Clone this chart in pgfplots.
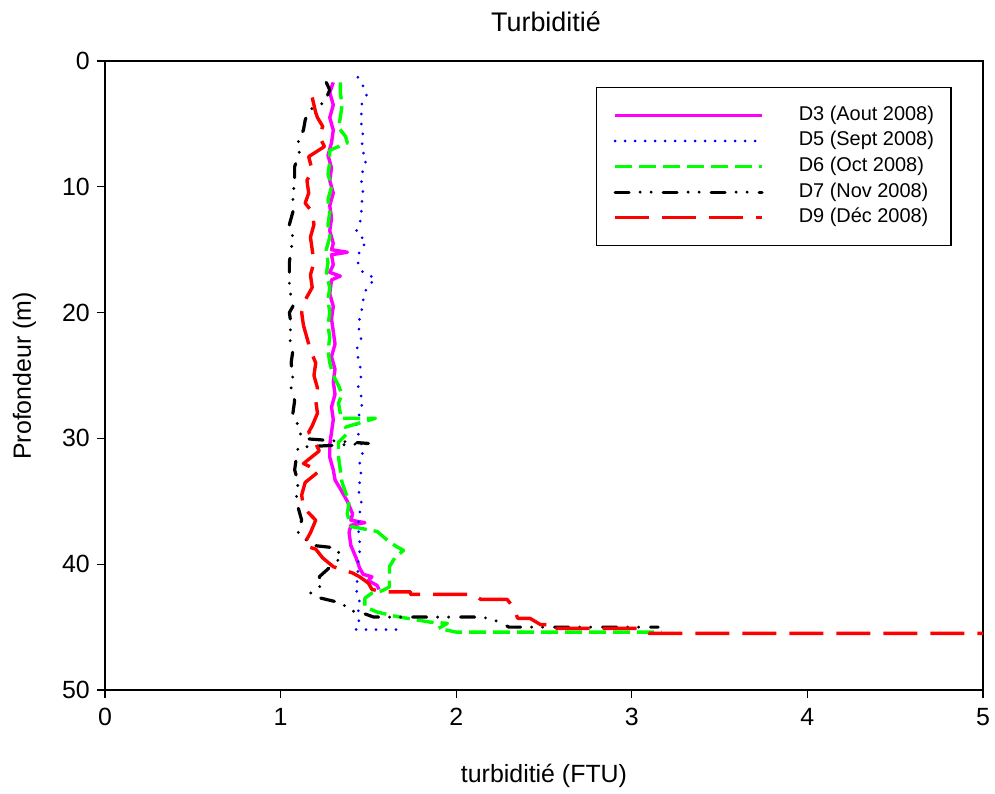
\documentclass[border=0pt]{standalone}
\usepackage{fontspec}
\setmainfont{Liberation Sans}
\usepackage{pgfplots}
\pgfplotsset{compat=1.18}
\definecolor{cmag}{RGB}{255,0,255}
\definecolor{cblue}{RGB}{0,0,255}
\definecolor{cgreen}{RGB}{0,255,0}
\definecolor{cred}{RGB}{255,0,0}
\begin{document}
\begin{tikzpicture}
\path[use as bounding box] (-105bp,-104bp) rectangle (890bp,690bp);
\begin{axis}[
  at={(0,0)}, anchor=south west,
  scale only axis, width=878bp, height=629bp,
  xmin=0, xmax=5, ymin=0, ymax=50,
  y dir=reverse,
  xtick={0,1,2,3,4,5}, ytick={0,10,20,30,40,50},
  tick pos=left, tick align=outside,
  major tick length=8bp,
  axis line style={line width=1.2bp},
  every tick/.style={black, line width=1.2bp},
  /pgf/number format/assume math mode=true,
  tick label style={font=\fontsize{25}{30}\selectfont},
  xticklabel style={inner sep=0pt, yshift=-10bp},
  yticklabel style={inner sep=0pt, xshift=-7bp},
  every axis plot/.append style={line join=round},
  legend cell align=left,
  legend style={at={(0.559,0.959)}, anchor=north west,
    font=\fontsize{20}{24}\selectfont,
    draw=black, line width=1.2bp,
    inner xsep=17bp, inner ysep=18bp,
    row sep=5.6bp,
    nodes={inner sep=0pt, text height=15bp, text depth=5bp},
    /tikz/every odd column/.append style={column sep=35bp}},
  legend image code/.code={\draw[#1] (0bp,0bp) -- (147bp,0bp);},
]
% D3 Aout 2008
\addplot[cmag, line width=3.4bp, mark=none] coordinates {
(1.30,1.7) (1.28,2.5) (1.30,3.5) (1.28,4.5) (1.30,5.5) (1.29,6.5) (1.27,7.5) (1.29,8.5) (1.28,9.5) (1.30,10.5) (1.28,11.5) (1.29,12.5) (1.28,13.5) (1.30,14.5) (1.29,15.0) (1.38,15.2) (1.29,15.4) (1.30,16.2) (1.28,16.8) (1.34,17.1) (1.29,17.4) (1.28,18.5) (1.30,19.5) (1.29,20.5) (1.30,21.5) (1.31,22.5) (1.29,23.5) (1.31,24.5) (1.30,25.5) (1.31,26.5) (1.29,27.5) (1.30,28.5) (1.29,29.5) (1.28,30.5) (1.28,31.5) (1.30,32.5) (1.31,33.3) (1.34,34) (1.38,35) (1.41,36) (1.40,36.5) (1.48,36.7) (1.40,36.9) (1.39,37.5) (1.40,38.5) (1.43,39.5) (1.45,40.3) (1.47,40.8) (1.52,41.0) (1.50,41.3) (1.55,41.7) (1.56,42.0)
};
\addlegendentry{D3 (Aout 2008)}
% D5 Sept 2008
\addplot[cblue, line width=3bp, line cap=round, dash pattern=on 0bp off 10bp, mark=none] coordinates {
(1.44,1.3) (1.47,2.0) (1.49,2.7) (1.46,3.5) (1.46,5) (1.47,6.0) (1.46,7.0) (1.49,7.8) (1.47,8.5) (1.46,9.5) (1.47,10.5) (1.46,11.5) (1.46,12.5) (1.43,13.6) (1.46,14.0) (1.49,14.4) (1.45,15) (1.44,16) (1.46,16.7) (1.54,17.3) (1.49,18.0) (1.47,19) (1.46,20) (1.44,21) (1.46,22) (1.43,23) (1.45,24) (1.46,25) (1.44,26) (1.47,27) (1.45,28) (1.43,29) (1.45,30) (1.47,31) (1.45,32) (1.46,33) (1.44,34) (1.46,35) (1.45,36) (1.44,37) (1.45,38) (1.45,39) (1.44,40) (1.44,41) (1.43,42) (1.45,43) (1.44,44) (1.45,44.8) (1.43,45.2) (1.69,45.2)
};
\addlegendentry{D5 (Sept 2008)}
% D6 Oct 2008
\addplot[cgreen, line width=3.4bp, dash pattern=on 17bp off 7bp, mark=none] coordinates {
(1.34,1.7) (1.34,2.5) (1.35,3.5) (1.34,4.5) (1.33,5.3) (1.37,6.0) (1.38,6.5) (1.28,7.1) (1.28,8) (1.27,9) (1.29,10) (1.27,11) (1.28,12) (1.27,13) (1.28,14) (1.26,15) (1.27,16) (1.26,17) (1.28,18) (1.27,19) (1.28,20) (1.27,21) (1.28,22) (1.27,23) (1.28,24) (1.30,25) (1.33,25.8) (1.35,26.5) (1.33,27.2) (1.34,28.0) (1.34,28.4) (1.54,28.4) (1.37,29.1) (1.38,29.6) (1.33,30.3) (1.33,31.5) (1.34,32.5) (1.35,33.5) (1.37,34.3) (1.39,35) (1.38,36) (1.40,37.0) (1.55,37.4) (1.60,38.0) (1.66,38.6) (1.70,38.9) (1.65,39.5) (1.62,40.2) (1.62,41) (1.62,41.8) (1.58,42.1) (1.52,42.3) (1.48,42.7) (1.48,43.4) (1.55,43.8) (1.64,44.1) (1.72,44.3) (1.85,44.6) (1.95,44.7) (1.90,45.1) (2.0,45.4) (3.17,45.4)
};
\addlegendentry{D6 (Oct 2008)}
% D7 Nov 2008
\addplot[black, line width=3.2bp, line cap=round, dash pattern=on 14bp off 11bp on 0bp off 11bp on 0bp off 12bp, mark=none] coordinates {
(1.26,1.7) (1.28,2.3) (1.25,3.3) (1.16,3.9) (1.14,4.7) (1.13,5.5) (1.10,6.3) (1.11,7.1) (1.08,8.4) (1.08,9.5) (1.07,10.8) (1.07,12) (1.05,13) (1.07,14) (1.06,15) (1.05,16) (1.05,17) (1.05,18) (1.07,19.5) (1.05,20) (1.06,21) (1.05,22) (1.07,23) (1.06,24) (1.07,25) (1.06,26) (1.08,27) (1.07,28) (1.10,29) (1.12,30.0) (1.50,30.4) (1.10,30.7) (1.09,31.5) (1.08,32.5) (1.10,33.5) (1.09,34.5) (1.10,35.5) (1.12,36.5) (1.10,37.5) (1.18,38.5) (1.31,38.7) (1.35,39.4) (1.30,40) (1.26,40.5) (1.22,41.0) (1.24,41.6) (1.17,42.3) (1.20,42.6) (1.32,43.0) (1.38,43.4) (1.40,43.7) (1.47,43.9) (1.53,44.2) (2.15,44.2) (2.25,44.6) (2.30,45.0) (3.15,45.0)
};
\addlegendentry{D7 (Nov 2008)}
% D9 Dec 2008
\addplot[cred, line width=3.4bp, dash pattern=on 34bp off 13bp, mark=none] coordinates {
(1.18,2.9) (1.20,4.1) (1.21,4.5) (1.24,5.2) (1.22,6.0) (1.25,6.8) (1.16,7.6) (1.18,8.7) (1.15,9.5) (1.16,10.5) (1.14,11.3) (1.18,12.0) (1.19,13) (1.17,14) (1.18,15) (1.19,16) (1.17,17) (1.18,18) (1.14,19) (1.12,20) (1.13,21) (1.15,22) (1.17,23) (1.20,24) (1.19,25) (1.21,26) (1.20,27) (1.21,28) (1.18,29) (1.16,29.5) (1.19,30.1) (1.22,31.0) (1.13,32) (1.22,32.6) (1.14,33.5) (1.12,34.5) (1.13,35.5) (1.20,36.5) (1.17,37.5) (1.13,38.5) (1.20,38.8) (1.24,39.5) (1.30,40.2) (1.41,40.7) (1.45,41.0) (1.50,41.5) (1.52,42.0) (1.58,42.2) (1.74,42.2) (1.74,42.4) (2.10,42.4) (2.14,42.8) (2.29,42.8) (2.33,43.5) (2.35,44.3) (2.42,44.3) (2.48,44.8) (2.57,44.8) (2.57,45.1) (3.05,45.1) (3.1,45.5) (5.0,45.5)
};
\addlegendentry{D9 (Déc 2008)}
\end{axis}
\node[anchor=base, font=\fontsize{27}{32}\selectfont] at (441bp,658.5bp) {Turbiditié};
\node[anchor=base, font=\fontsize{25}{30}\selectfont] at (439bp,-92bp) {turbiditié (FTU)};
\node[anchor=base, rotate=90, font=\fontsize{25}{30}\selectfont] at (-74bp,314bp) {Profondeur (m)};
\end{tikzpicture}
\end{document}
